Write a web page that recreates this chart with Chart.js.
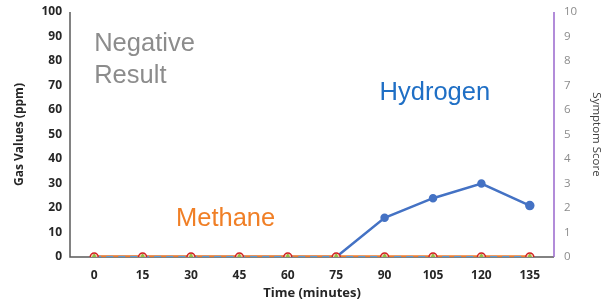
<!DOCTYPE html>
<html>
<head>
<meta charset="utf-8">
<script src="https://cdn.jsdelivr.net/npm/chart.js@4"></script>
<style>
  html, body { margin: 0; padding: 0; background: #fff; }
  #wrap { width: 601px; height: 301px; }
</style>
</head>
<body>
<div id="wrap"><canvas id="myChart"></canvas></div>
<script>
const times = ['0', '15', '30', '45', '60', '75', '90', '105', '120', '135'];
const hydrogen = [0, 0, 0, 0, 0, 0, 16, 24, 30, 21];
const methane = [0, 0, 0, 0, 0, 0, 0, 0, 0, 0];
const symptomA = [0, 0, 0, 0, 0, 0, 0, 0, 0, 0];
const symptomB = [0, 0, 0, 0, 0, 0, 0, 0, 0, 0];
const symptomC = [0, 0, 0, 0, 0, 0, 0, 0, 0, 0];
const gasTicks = [0, 10, 20, 30, 40, 50, 60, 70, 80, 90, 100];
const scoreTicks = [0, 1, 2, 3, 4, 5, 6, 7, 8, 9, 10];

const labelsPlugin = {
  id: 'labels',
  afterDatasetsDraw(chart) {
    const { ctx, scales } = chart;
    const x = scales.x, y = scales.y;
    ctx.save();
    ctx.textBaseline = 'middle';
    ctx.textAlign = 'left';
    ctx.font = '25.5px "Liberation Sans", Arial, sans-serif';
    ctx.fillStyle = '#8c8c8c';
    ctx.fillText('Negative', x.getPixelForValue(0), y.getPixelForValue(87));
    ctx.fillText('Result', x.getPixelForValue(0), y.getPixelForValue(74));
    ctx.fillStyle = '#1f6fc5';
    ctx.fillText('Hydrogen', x.getPixelForValue(6) - 5, y.getPixelForValue(67));
    ctx.fillStyle = '#f07f26';
    ctx.fillText('Methane', x.getPixelForValue(2) - 15, y.getPixelForValue(15.5));
    ctx.restore();
  }
};

const axisLines = {
  id: 'axisLines',
  beforeDatasetsDraw(chart) {
    const { ctx, chartArea: a } = chart;
    ctx.save();
    ctx.lineWidth = 1.5;
    ctx.strokeStyle = '#595959';
    ctx.beginPath();
    ctx.moveTo(a.left, a.top);
    ctx.lineTo(a.left, a.bottom);
    ctx.lineTo(a.right, a.bottom);
    ctx.stroke();
    ctx.strokeStyle = '#9966cc';
    ctx.beginPath();
    ctx.moveTo(a.right, a.top);
    ctx.lineTo(a.right, a.bottom);
    ctx.stroke();
    ctx.restore();
  }
};

const fam = '"Open Sans", "DejaVu Sans", sans-serif';
const boldFont = { family: fam, size: 12, weight: 'bold' };

new Chart(document.getElementById('myChart').getContext('2d'), {
  type: 'line',
  data: {
    labels: times,
    datasets: [
      {
        label: 'Symptom C',
        data: symptomC,
        yAxisID: 'y2',
        showLine: false,
        pointStyle: 'triangle',
        pointRadius: 3,
        pointBackgroundColor: '#8fbf3f',
        pointBorderColor: '#8fbf3f',
        order: 1
      },
      {
        label: 'Symptom B',
        data: symptomB,
        yAxisID: 'y2',
        showLine: false,
        pointStyle: 'circle',
        pointRadius: 4,
        pointBorderWidth: 1.5,
        pointBackgroundColor: '#f3c6b0',
        pointBorderColor: '#d02020',
        order: 2
      },
      {
        label: 'Symptom A',
        data: symptomA,
        yAxisID: 'y2',
        borderColor: '#5b9bd5',
        borderWidth: 2,
        borderDash: [7, 5],
        pointRadius: 0,
        order: 3
      },
      {
        label: 'Methane',
        data: methane,
        borderColor: '#ed7d31',
        borderWidth: 3.5,
        pointRadius: 0,
        order: 4
      },
      {
        label: 'Hydrogen',
        data: hydrogen,
        borderColor: '#4472c4',
        backgroundColor: '#4472c4',
        borderWidth: 2.5,
        pointRadius: [0, 0, 0, 0, 0, 0, 3, 3, 3, 3.5],
        pointBackgroundColor: '#4472c4',
        pointBorderColor: '#4472c4',
        order: 5
      }
    ]
  },
  options: {
    responsive: true,
    maintainAspectRatio: false,
    animation: false,
    layout: { padding: { top: 12, left: 0, right: 0, bottom: 0 } },
    plugins: { legend: { display: false }, tooltip: { enabled: false } },
    scales: {
      x: {
        offset: true,
        grid: { display: false, drawTicks: false },
        border: { display: false },
        ticks: { color: '#262626', font: boldFont, padding: 11, maxRotation: 0 },
        title: { display: true, text: 'Time (minutes)', color: '#262626', font: { ...boldFont, size: 13 }, padding: 0 },
        afterFit: s => { s.height = 44; }
      },
      y: {
        position: 'left',
        min: 0, max: 100,
        afterBuildTicks: s => { s.ticks = gasTicks.map(v => ({ value: v })); },
        grid: { display: false, drawTicks: false },
        border: { display: false },
        ticks: { color: '#262626', font: boldFont, padding: 8 },
        title: { display: true, text: 'Gas Values (ppm)', color: '#262626', font: { ...boldFont, size: 12 }, padding: { top: 12, bottom: 0 } },
        afterFit: s => { s.width = 70; s.paddingTop = 0; s.paddingBottom = 0; }
      },
      y2: {
        position: 'right',
        min: 0, max: 10,
        afterBuildTicks: s => { s.ticks = scoreTicks.map(v => ({ value: v })); },
        grid: { display: false, drawTicks: false },
        border: { display: false },
        ticks: { color: '#8c8c8c', font: { family: fam, size: 11.5 }, padding: 10 },
        title: { display: true, text: 'Symptom Score', color: '#404040', font: { family: fam, size: 11.5 }, padding: { top: -2, bottom: 0 } },
        afterFit: s => { s.width = 47; s.paddingTop = 0; s.paddingBottom = 0; }
      }
    }
  },
  plugins: [axisLines, labelsPlugin]
});
</script>
</body>
</html>
